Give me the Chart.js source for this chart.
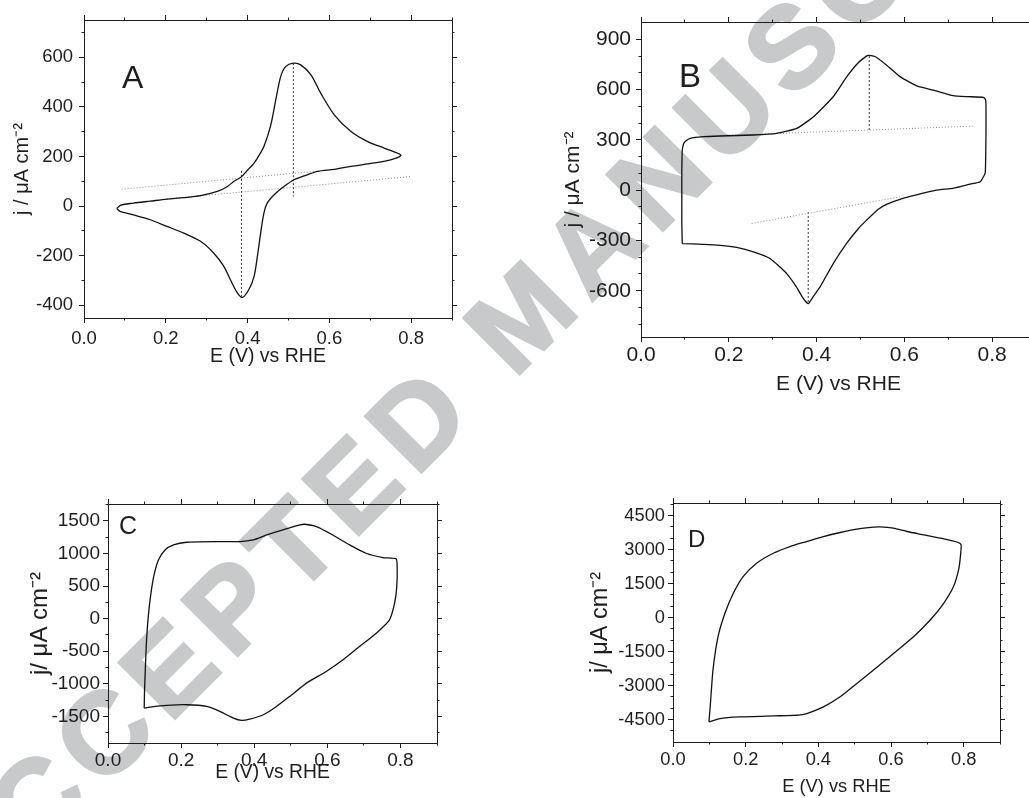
<!DOCTYPE html>
<html>
<head>
<meta charset="utf-8">
<script src="https://cdn.jsdelivr.net/npm/chart.js@4.4.1/dist/chart.umd.min.js"></script>
<style>
  html, body { margin: 0; padding: 0; background: #fff; }
  body { width: 1029px; height: 798px; overflow: hidden; position: relative; }
  .panel { position: absolute; }
  #stamp {
    position: absolute; left: -60px; top: 840px;
    transform-origin: 0 50%; transform: rotate(-45deg);
    font: bold 115px "Liberation Sans", Arial, sans-serif;
    letter-spacing: 12px; -webkit-text-stroke: 3px #c8c9cb;
    line-height: 1; white-space: nowrap; color: #c8c9cb;
  }
</style>
</head>
<body>
<div id="stamp">ACCEPTED MANUSCRIPT</div>
<div class="panel" style="left:0;top:0;width:470px;height:380px"><canvas id="cA"></canvas></div>
<div class="panel" style="left:520px;top:0;width:530px;height:400px"><canvas id="cB"></canvas></div>
<div class="panel" style="left:0;top:470px;width:460px;height:328px"><canvas id="cC"></canvas></div>
<div class="panel" style="left:540px;top:470px;width:489px;height:328px"><canvas id="cD"></canvas></div>
<script>
// ---- data (E in V vs RHE, j in uA cm-2) ----
// A
const E_A = [0.080, 0.090, 0.121, 0.162, 0.203, 0.244, 0.285, 0.326, 0.350, 0.366, 0.385, 0.400, 0.416, 0.430, 0.440, 0.456, 0.469, 0.481, 0.493, 0.512, 0.530, 0.555, 0.579, 0.612, 0.653, 0.694, 0.734, 0.767, 0.775,
             0.763, 0.734, 0.694, 0.653, 0.612, 0.571, 0.546, 0.514, 0.489, 0.465, 0.448, 0.440, 0.432, 0.424, 0.416, 0.403, 0.387, 0.375, 0.358, 0.342, 0.317, 0.285, 0.244, 0.203, 0.162, 0.121, 0.088, 0.080];
const J_A = [-10, 4, 12, 20, 28, 34, 42, 59, 78, 99, 118, 145, 173, 210, 240, 321, 428, 522, 562, 576, 569, 529, 455, 368, 301, 260, 234, 213, 205,
             193, 180, 170, 160, 148, 140, 126, 106, 79, 46, 12, -28, -109, -203, -283, -337, -368, -350, -297, -243, -189, -142, -109, -82, -55, -35, -21, -10];
const baseA1_E = [0.092, 0.563], baseA1_J = [68, 140];
const baseA2_E = [0.203, 0.798], baseA2_J = [29, 119];
const peakA1_E = [0.512, 0.512], peakA1_J = [576, 39];
const peakA2_E = [0.385, 0.385], peakA2_J = [142, -368];

// B
const E_B = [0.094, 0.093, 0.093, 0.093, 0.094, 0.097, 0.100, 0.112, 0.142, 0.180, 0.256, 0.309, 0.355, 0.393, 0.438, 0.469, 0.495, 0.516, 0.533, 0.559, 0.590, 0.630, 0.666, 0.711, 0.742, 0.780, 0.785, 0.786, 0.786, 0.785, 0.784, 0.773, 0.750, 0.712, 0.673, 0.628, 0.595, 0.562, 0.540, 0.514, 0.495, 0.468, 0.438, 0.408, 0.392, 0.381, 0.370, 0.354, 0.332, 0.294, 0.256, 0.218, 0.180, 0.142, 0.094];
const J_B = [-319, -200, -60, 100, 239, 275, 289, 309, 319, 323, 329, 339, 368, 438, 557, 677, 760, 803, 797, 747, 677, 620, 597, 564, 558, 554, 540, 500, 339, 139, 100, 50, 36, 12, 0, -28, -50, -82, -115, -179, -230, -319, -438, -577, -637, -677, -647, -577, -498, -408, -368, -342, -329, -323, -319];
const baseB1_E = [0.180, 0.757], baseB1_J = [325, 382];
const baseB2_E = [0.252, 0.590], baseB2_J = [-199, -40];
const peakB1_E = [0.520, 0.520], peakB1_J = [800, 345];
const peakB2_E = [0.381, 0.381], peakB2_J = [-130, -675];

// C
const E_C = [0.099, 0.100, 0.102, 0.106, 0.114, 0.125, 0.138, 0.156, 0.179, 0.215, 0.297, 0.361, 0.397, 0.434, 0.479, 0.525, 0.538, 0.570, 0.615, 0.661, 0.706, 0.752, 0.788, 0.791, 0.790, 0.784, 0.770, 0.734, 0.688, 0.643, 0.597, 0.543, 0.497, 0.461, 0.425, 0.388, 0.365, 0.343, 0.306, 0.270, 0.215, 0.161, 0.115, 0.099];
const J_C = [-1372, -1100, -784, -273, 238, 647, 902, 1055, 1132, 1173, 1183, 1183, 1209, 1285, 1362, 1439, 1449, 1413, 1285, 1132, 1004, 938, 918, 800, 493, 238, -18, -222, -427, -631, -810, -989, -1193, -1347, -1474, -1541, -1561, -1526, -1423, -1347, -1321, -1331, -1357, -1372];

// D
const E_D = [0.099, 0.103, 0.110, 0.124, 0.143, 0.166, 0.193, 0.230, 0.276, 0.322, 0.368, 0.414, 0.460, 0.506, 0.552, 0.570, 0.607, 0.644, 0.690, 0.736, 0.786, 0.793, 0.791, 0.786, 0.772, 0.745, 0.708, 0.662, 0.607, 0.552, 0.506, 0.460, 0.414, 0.368, 0.345, 0.276, 0.184, 0.129, 0.099];
const J_D = [-4603, -3793, -2320, -847, 184, 1068, 1804, 2394, 2835, 3130, 3351, 3572, 3749, 3896, 3985, 3999, 3940, 3793, 3646, 3499, 3307, 3204, 2688, 2099, 1363, 626, -110, -847, -1584, -2320, -2909, -3498, -3940, -4235, -4308, -4338, -4382, -4455, -4603];

// ticks
const xMajor = [0, 0.2, 0.4, 0.6, 0.8];
const xMinor = [0.1, 0.3, 0.5, 0.7, 0.9];
const yMajorA = [-400, -200, 0, 200, 400, 600];
const yMinorA = [-300, -100, 100, 300, 500, 700];
const yMajorB = [-600, -300, 0, 300, 600, 900];
const yMinorB = [-800, -700, -500, -400, -200, -100, 100, 200, 400, 500, 700, 800];
const yMajorC = [-1500, -1000, -500, 0, 500, 1000, 1500];
const yMinorC = [-1750, -1250, -750, -250, 250, 750, 1250, 1750];
const yMajorD = [-4500, -3000, -1500, 0, 1500, 3000, 4500];
const yMinorD = [-5000, -4000, -3500, -2500, -2000, -1000, -500, 500, 1000, 2000, 2500, 3500, 4000, 5000];

const xLabel = 'E (V) vs RHE';

// ---- helpers ----
const ink = '#1e1e1e';
const fam = '"Liberation Sans", Arial, Helvetica, sans-serif';
const pts = (xs, ys) => xs.map((x, i) => ({ x: x, y: ys[i] }));
const sized = size => function (scale) { if (scale.isHorizontal()) scale.height = size; else scale.width = size; };
const fixed = list => function (scale) { scale.ticks = list.map(v => ({ value: v })); };

function tickAxis(position, min, max, list, len, size, weight, frame) {
  return {
    type: 'linear', position: position, min: min, max: max, weight: weight,
    afterBuildTicks: fixed(list), afterFit: sized(size),
    grid: { drawOnChartArea: false, drawTicks: true, tickLength: len, tickColor: ink, tickWidth: 1 },
    border: { display: !!frame, color: ink, width: 1 },
    ticks: { display: false }
  };
}

function labelAxis(position, min, max, list, size, p, horiz) {
  const a = tickAxis(position, min, max, list, 5, size, 1, true);
  a.ticks = {
    display: true, autoSkip: false, maxRotation: 0, minRotation: 0,
    padding: horiz ? p.xPad : p.yPad, color: ink,
    font: { family: fam, size: p.tickFont },
    callback: horiz ? (v => Number(v).toFixed(1)) : (v => String(v))
  };
  a.title = {
    display: true, text: horiz ? xLabel : p.yTitle, color: ink,
    font: { family: fam, size: horiz ? p.xTitleFont : p.yTitleFont },
    padding: horiz ? { top: 0, bottom: p.xTitlePad } : { top: p.yTitlePad, bottom: 0 }
  };
  return a;
}

const panelLetter = {
  id: 'panelLetter',
  afterDraw(chart, args, o) {
    const ctx = chart.ctx, a = chart.chartArea;
    ctx.save();
    ctx.font = o.size + 'px ' + fam;
    ctx.fillStyle = ink;
    ctx.textBaseline = 'alphabetic';
    ctx.fillText(o.text, a.left + o.dx, a.top + o.dy);
    ctx.restore();
  }
};

function guide(xs, ys, color, dash) {
  return { data: pts(xs, ys), showLine: true, borderColor: color, borderWidth: 1, borderDash: dash, pointRadius: 0, tension: 0 };
}

function drawPanel(p) {
  const sets = [{ data: pts(p.E, p.J), showLine: true, borderColor: '#111', borderWidth: 1.3, pointRadius: 0, tension: p.tension }];
  (p.guides || []).forEach(g => sets.push(g));
  new Chart(document.getElementById(p.id), {
    type: 'scatter',
    data: { datasets: sets },
    plugins: [panelLetter],
    options: {
      responsive: true, maintainAspectRatio: false, animation: false,
      layout: { autoPadding: false, padding: { top: p.padTop, right: p.padRight, bottom: 0, left: 0 } },
      plugins: { legend: { display: false }, tooltip: { enabled: false }, panelLetter: { text: p.letter, size: p.letterSize, dx: p.letterDx, dy: p.letterDy } },
      scales: {
        x: labelAxis('bottom', p.xMin, p.xMax, xMajor, p.xHeight, p, true),
        xm: tickAxis('bottom', p.xMin, p.xMax, xMinor, 2.5, 0, 0, false),
        xt: tickAxis('top', p.xMin, p.xMax, xMajor, 5, 0, 0, true),
        xtm: tickAxis('top', p.xMin, p.xMax, xMinor, 2.5, 0, 1, false),
        y: labelAxis('left', p.yMin, p.yMax, p.yMajor, p.yWidth, p, false),
        ym: tickAxis('left', p.yMin, p.yMax, p.yMinor, 2.5, 0, 0, false),
        yr: tickAxis('right', p.yMin, p.yMax, p.yMajor, 5, 0, 0, true),
        yrm: tickAxis('right', p.yMin, p.yMax, p.yMinor, 2.5, 0, 1, false)
      }
    }
  });
}

const dotGrey = '#8a8a8a', dotDark = '#333';

drawPanel({
  id: 'cA', E: E_A, J: J_A, tension: 0.3,
  guides: [guide(baseA1_E, baseA1_J, dotGrey, [1, 2]), guide(baseA2_E, baseA2_J, dotGrey, [1, 2]),
           guide(peakA1_E, peakA1_J, dotDark, [2, 2]), guide(peakA2_E, peakA2_J, dotDark, [2, 2])],
  xMin: 0, xMax: 0.9, yMin: -451, yMax: 750, yMajor: yMajorA, yMinor: yMinorA,
  padTop: 20, padRight: 18, yWidth: 84, xHeight: 62,
  tickFont: 18.5, xPad: 5, yPad: 6, xTitleFont: 19.5, yTitleFont: 20, xTitlePad: 12, yTitlePad: 10,
  yTitle: 'j / μA cm⁻²', letter: 'A', letterSize: 32, letterDx: 38, letterDy: 68
});

drawPanel({
  id: 'cB', E: E_B, J: J_B, tension: 0.15,
  guides: [guide(baseB1_E, baseB1_J, dotGrey, [1, 2]), guide(baseB2_E, baseB2_J, dotGrey, [1, 2]),
           guide(peakB1_E, peakB1_J, dotDark, [2, 2]), guide(peakB2_E, peakB2_J, dotDark, [2, 2])],
  xMin: 0, xMax: 0.9, yMin: -876, yMax: 1003, yMajor: yMajorB, yMinor: yMinorB,
  padTop: 22, padRight: 14, yWidth: 121, xHeight: 63,
  tickFont: 21, xPad: 1, yPad: 5, xTitleFont: 21, yTitleFont: 21, xTitlePad: 3, yTitlePad: 41,
  yTitle: 'j / μA cm⁻²', letter: 'B', letterSize: 33, letterDx: 38, letterDy: 65
});

drawPanel({
  id: 'cC', E: E_C, J: J_C, tension: 0.2,
  xMin: 0, xMax: 0.9, yMin: -1908, yMax: 1760, yMajor: yMajorC, yMinor: yMinorC,
  padTop: 34, padRight: 23, yWidth: 108, xHeight: 55,
  tickFont: 19, xPad: 1, yPad: 3, xTitleFont: 19.3, yTitleFont: 24, xTitlePad: 14, yTitlePad: 26,
  yTitle: 'j/ μA cm⁻²', letter: 'C', letterSize: 25, letterDx: 11, letterDy: 30
});

drawPanel({
  id: 'cD', E: E_D, J: J_D, tension: 0.2,
  xMin: 0, xMax: 0.9, yMin: -5490, yMax: 5050, yMajor: yMajorD, yMinor: yMinorD,
  padTop: 33, padRight: 29, yWidth: 133, xHeight: 56,
  tickFont: 18.3, xPad: 2, yPad: 3, xTitleFont: 18.3, yTitleFont: 23.5, xTitlePad: 0, yTitlePad: 46,
  yTitle: 'j/ μA cm⁻²', letter: 'D', letterSize: 24, letterDx: 15, letterDy: 44
});
</script>
</body>
</html>
